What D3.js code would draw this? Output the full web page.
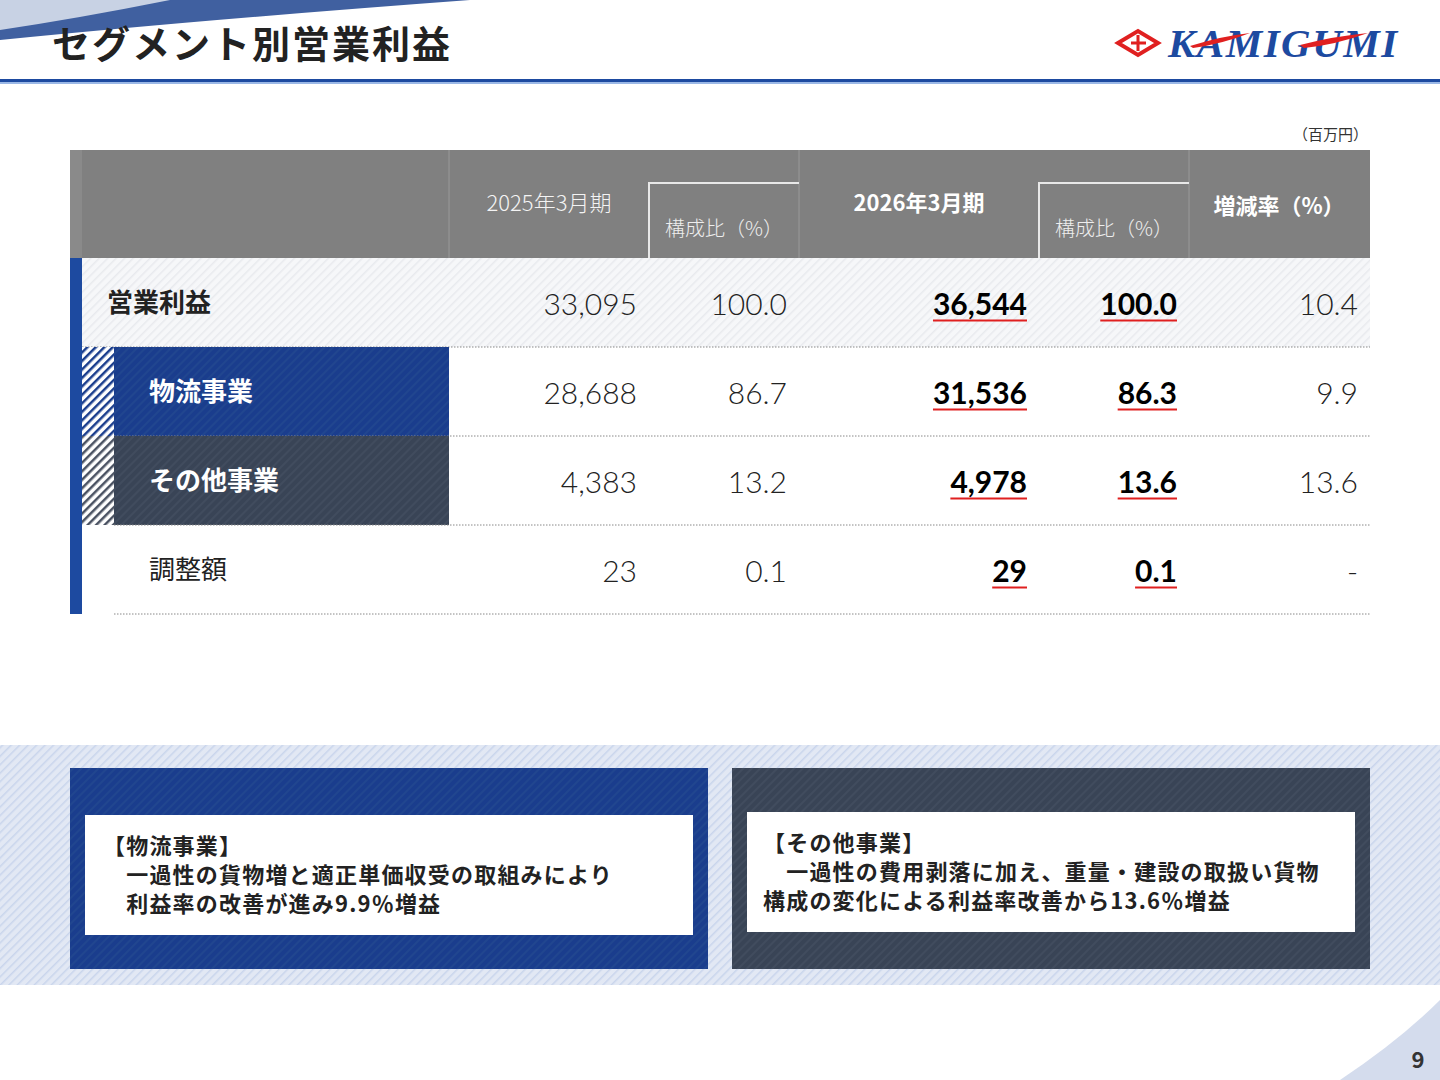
<!DOCTYPE html>
<html><head><meta charset="utf-8">
<script src="https://cdn.jsdelivr.net/npm/d3@7"></script>
<style>body{margin:0;background:#fff}svg{display:block;font-family:"Noto Sans CJK JP","Noto Sans",sans-serif}</style>
</head><body><div id="chart"></div>
<script>
const segments = ["営業利益", "物流事業", "その他事業", "調整額"];
const fy2025 = [33095, 28688, 4383, 23];
const ratio2025 = [100.0, 86.7, 13.2, 0.1];
const fy2026 = [36544, 31536, 4978, 29];
const ratio2026 = [100.0, 86.3, 13.6, 0.1];
const change = [10.4, 9.9, 13.6, null];
const notes = [
  ["【物流事業】", "　一過性の貨物増と適正単価収受の取組みにより", "　利益率の改善が進み9.9％増益"],
  ["【その他事業】", "　一過性の費用剥落に加え、重量・建設の取扱い貨物", "構成の変化による利益率改善から13.6％増益"]
];

const W = 1440, H = 1080;
const svg = d3.select("#chart").append("svg").attr("width", W).attr("height", H);
const defs = svg.append("defs");
function hatch(id, bg, fg, w) {
  const p = defs.append("pattern").attr("id", id).attr("width", 6).attr("height", 6)
    .attr("patternUnits", "userSpaceOnUse").attr("patternTransform", "rotate(45)");
  p.append("rect").attr("width", 6).attr("height", 6).attr("fill", bg);
  p.append("rect").attr("width", w).attr("height", 6).attr("fill", fg);
}
hatch("hLight", "#f6f7f9", "#e8eaee", 1.5);
hatch("hBand", "#e2e8f4", "#c9d5ec", 1.5);
hatch("hBlue", "#1a3d8d", "#21468f", 2);
hatch("hSlate", "#394456", "#414c5e", 2);
hatch("hBlueStrip", "#ffffff", "#1a3d8d", 2.5);
hatch("hGrayStrip", "#ffffff", "#4a5262", 2.5);

// header decoration
svg.append("path").attr("d", "M0,0 L470,0 Q200,20 0,40 Z").attr("fill", "#4060a0");
svg.append("path").attr("d", "M0,0 L170,0 Q80,18 0,30 Z").attr("fill", "#c8d2e4");
svg.append("text").attr("x", 52).attr("y", 58).attr("font-size", 38).attr("font-weight", 700)
  .attr("fill", "#222").attr("letter-spacing", 2).text("セグメント別営業利益");
svg.append("rect").attr("x", 0).attr("y", 79).attr("width", W).attr("height", 3).attr("fill", "#1d4aa0");
svg.append("rect").attr("x", 0).attr("y", 82).attr("width", W).attr("height", 2).attr("fill", "#9bb8e6");
// logo
svg.append("path").attr("d", "M1118,43 L1138,31 L1158,43 L1138,55 Z").attr("fill", "none").attr("stroke", "#e02020").attr("stroke-width", 4);
svg.append("path").attr("d", "M1138,35 V51 M1131,43 H1146").attr("stroke", "#e02020").attr("stroke-width", 3);
svg.append("text").attr("x", 1168).attr("y", 57).attr("font-family", "Liberation Serif").attr("font-style", "italic")
  .attr("font-weight", 700).attr("font-size", 41).attr("letter-spacing", 1.5).attr("fill", "#1d4aa0").text("KAMIGUMI");
svg.append("path").attr("d", "M1190,46 Q1222,36 1250,33 Q1222,44 1193,48 Z").attr("fill", "#e02020");
svg.append("path").attr("d", "M1300,45 Q1335,36 1368,33 Q1335,45 1304,48 Z").attr("fill", "#e02020");

svg.append("text").attr("x", 1368).attr("y", 140).attr("text-anchor", "end").attr("font-size", 15).attr("fill", "#333").text("（百万円）");

// table
const tL = 70, tR = 1370;
const y = d3.scaleBand().domain(segments).range([258, 614]);
const cols = [
  {x0: 449, x1: 649, data: fy2025, bold: false, f: d3.format(",")},
  {x0: 649, x1: 799, data: ratio2025, bold: false, f: d3.format(".1f")},
  {x0: 799, x1: 1039, data: fy2026, bold: true, f: d3.format(",")},
  {x0: 1039, x1: 1189, data: ratio2026, bold: true, f: d3.format(".1f")},
  {x0: 1189, x1: 1370, data: change, bold: false, f: d3.format(".1f")}
];
// header
svg.append("rect").attr("x", tL).attr("y", 150).attr("width", tR - tL).attr("height", 108).attr("fill", "#808080");
svg.append("rect").attr("x", tL).attr("y", 150).attr("width", 12).attr("height", 108).attr("fill", "#8a8a8a");
[449, 799, 1189].forEach(x => svg.append("line").attr("x1", x).attr("x2", x).attr("y1", 150).attr("y2", 258).attr("stroke", "#999"));
[[649, 799], [1039, 1189]].forEach(([a, b]) => {
  svg.append("path").attr("d", `M${a},258 V183 H${b}`).attr("fill", "none").attr("stroke", "#e8e8e8").attr("stroke-width", 2);
  svg.append("text").attr("x", (a + b) / 2).attr("y", 236).attr("text-anchor", "middle").attr("font-size", 20)
    .attr("fill", "#eee").attr("font-weight", 300).text("構成比（%）");
});
svg.append("text").attr("x", 549).attr("y", 211).attr("text-anchor", "middle").attr("font-size", 22).attr("fill", "#f4f4f4").attr("font-weight", 300).text("2025年3月期");
svg.append("text").attr("x", 919).attr("y", 211).attr("text-anchor", "middle").attr("font-size", 22).attr("fill", "#fff").attr("font-weight", 700).text("2026年3月期");
svg.append("text").attr("x", 1279).attr("y", 214).attr("text-anchor", "middle").attr("font-size", 22).attr("fill", "#fff").attr("font-weight", 700).text("増減率（%）");

// rows
svg.append("rect").attr("x", 82).attr("y", y(segments[0])).attr("width", tR - 82).attr("height", y.bandwidth()).attr("fill", "url(#hLight)");
svg.append("rect").attr("x", tL).attr("y", 258).attr("width", 12).attr("height", 356).attr("fill", "#1d4aa0");
const rowFill = [null, "url(#hBlue)", "url(#hSlate)", null];
const stripFill = [null, "url(#hBlueStrip)", "url(#hGrayStrip)", null];
segments.forEach((s, i) => {
  const yy = y(s), h = y.bandwidth();
  if (rowFill[i]) {
    svg.append("rect").attr("x", 82).attr("y", yy).attr("width", 32).attr("height", h).attr("fill", stripFill[i]);
    svg.append("rect").attr("x", 114).attr("y", yy).attr("width", 335).attr("height", h).attr("fill", rowFill[i]);
  }
  const lx = i === 0 ? 107 : 149;
  svg.append("text").attr("x", lx).attr("y", yy + h / 2 + 9).attr("font-size", 26)
    .attr("font-weight", i === 3 ? 400 : 700).attr("fill", rowFill[i] ? "#fff" : "#222").text(s);
  svg.append("line").attr("x1", i === 0 ? 82 : 114).attr("x2", tR).attr("y1", yy + h).attr("y2", yy + h)
    .attr("stroke", "#888").attr("stroke-dasharray", "1.5,1.5");
  cols.forEach(c => {
    const v = c.data[i];
    const txt = v == null ? "-" : c.f(v);
    const t = svg.append("text").attr("x", c.x1 - 12).attr("y", yy + h / 2 + 12).attr("text-anchor", "end")
      .attr("font-family", "Lato, 'Noto Sans', sans-serif").attr("font-size", 30)
      .attr("font-weight", c.bold ? 700 : 300).attr("fill", c.bold ? "#000" : "#222").text(txt);
    if (c.bold) {
      const w = t.node().getComputedTextLength();
      svg.append("line").attr("x1", c.x1 - 12 - w).attr("x2", c.x1 - 12).attr("y1", yy + h / 2 + 18).attr("y2", yy + h / 2 + 18)
        .attr("stroke", "#e02020").attr("stroke-width", 2);
    }
  });
});

// bottom band
svg.append("rect").attr("x", 0).attr("y", 745).attr("width", W).attr("height", 240).attr("fill", "url(#hBand)");
const boxes = [
  {x: 70, fill: "url(#hBlue)", ix: 85, iy: 815, ih: 120, tx: 103, ty: 854},
  {x: 732, fill: "url(#hSlate)", ix: 747, iy: 812, ih: 120, tx: 763, ty: 851}
];
boxes.forEach((b, i) => {
  svg.append("rect").attr("x", b.x).attr("y", 768).attr("width", 638).attr("height", 201).attr("fill", b.fill);
  svg.append("rect").attr("x", b.ix).attr("y", b.iy).attr("width", 608).attr("height", b.ih).attr("fill", "#fff");
  notes[i].forEach((ln, j) => svg.append("text").attr("x", b.tx).attr("y", b.ty + j * 29)
    .attr("font-size", 22).attr("letter-spacing", 1.2).attr("font-weight", 700).attr("fill", "#222").text(ln));
});

// page corner
svg.append("path").attr("d", `M1340,1080 Q1400,1040 1440,1000 V1080 Z`).attr("fill", "#d4dced");
svg.append("text").attr("x", 1418).attr("y", 1068).attr("text-anchor", "middle").attr("font-size", 22).attr("font-weight", 700).attr("fill", "#333").text("9");
</script></body></html>
